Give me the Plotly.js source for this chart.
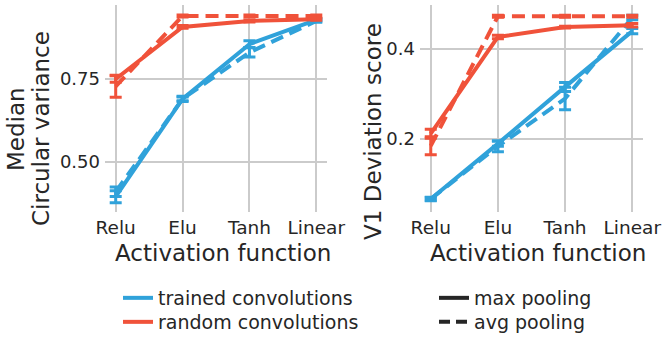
<!DOCTYPE html>
<html><head><meta charset="utf-8">
<script src="https://cdn.plot.ly/plotly-3.0.1.min.js"></script>
<style>html,body{margin:0;padding:0;background:#fff}</style>
</head><body>
<div id="chart" style="width:670px;height:344px"></div>
<script>
const categories = ["Relu", "Elu", "Tanh", "Linear"];

// Left panel: Median circular variance
const cvTrainedMax = [0.395, 0.690, 0.855, 0.928];
const cvTrainedMaxErr = [0.018, 0.008, 0.010, 0.004];
const cvTrainedAvg = [0.410, 0.690, 0.830, 0.925];
const cvTrainedAvgErr = [0.014, 0.006, 0.014, 0.004];
const cvRandomMax = [0.750, 0.907, 0.925, 0.930];
const cvRandomMaxErr = [0.010, 0.004, 0.003, 0.003];
const cvRandomAvg = [0.728, 0.940, 0.940, 0.940];
const cvRandomAvgErr = [0.033, 0.003, 0.003, 0.003];

// Right panel: V1 deviation score
const devTrainedMax = [0.067, 0.190, 0.316, 0.440];
const devTrainedMaxErr = [0.004, 0.006, 0.010, 0.006];
const devTrainedAvg = [0.067, 0.184, 0.290, 0.470];
const devTrainedAvgErr = [0.003, 0.012, 0.025, 0.005];
const devRandomMax = [0.212, 0.427, 0.449, 0.453];
const devRandomMaxErr = [0.010, 0.004, 0.002, 0.004];
const devRandomAvg = [0.185, 0.473, 0.473, 0.473];
const devRandomAvgErr = [0.020, 0.002, 0.002, 0.002];

const colorLegendLabels = ["trained convolutions", "random convolutions"];
const styleLegendLabels = ["max pooling", "avg pooling"];

const BLUE = "#30a2da", RED = "#f0523a", INK = "#262626";
const DASH = "13px,7px";

function series(xa, ya, y, err, color, dash) {
  return {
    type: "scatter", mode: "lines", x: categories, y: y,
    xaxis: xa, yaxis: ya, showlegend: false, hoverinfo: "skip",
    line: {color: color, width: 4, dash: dash},
    error_y: {type: "data", array: err, visible: true, color: color, thickness: 3, width: 6}
  };
}

const traces = [
  series("x", "y", cvTrainedMax, cvTrainedMaxErr, BLUE, "solid"),
  series("x", "y", cvTrainedAvg, cvTrainedAvgErr, BLUE, DASH),
  series("x", "y", cvRandomMax, cvRandomMaxErr, RED, "solid"),
  series("x", "y", cvRandomAvg, cvRandomAvgErr, RED, DASH),
  series("x2", "y2", devTrainedMax, devTrainedMaxErr, BLUE, "solid"),
  series("x2", "y2", devTrainedAvg, devTrainedAvgErr, BLUE, DASH),
  series("x2", "y2", devRandomMax, devRandomMaxErr, RED, "solid"),
  series("x2", "y2", devRandomAvg, devRandomAvgErr, RED, DASH),
  // legend entries
  {type: "scatter", mode: "lines", x: [null], y: [null], name: colorLegendLabels[0],
   line: {color: BLUE, width: 4}, legend: "legend"},
  {type: "scatter", mode: "lines", x: [null], y: [null], name: colorLegendLabels[1],
   line: {color: RED, width: 4}, legend: "legend2"},
  {type: "scatter", mode: "lines", x: [null], y: [null], name: styleLegendLabels[0],
   line: {color: INK, width: 4}, legend: "legend3"},
  {type: "scatter", mode: "lines", x: [null], y: [null], name: styleLegendLabels[1],
   line: {color: INK, width: 4, dash: "11px,6px"}, legend: "legend4"}
];

const font = {family: "DejaVu Sans", color: INK};
const gridAxis = {
  showgrid: true, gridcolor: "#cbcbcb", gridwidth: 2, zeroline: false,
  showline: false, ticks: "", ticklen: 0,
  tickfont: {family: "DejaVu Sans", size: 18.5, color: INK}
};

const yTop = 1 - 5/344, yBot = 1 - 212/344;

function leg(xpx, ycpx) {
  return {x: xpx/670, xanchor: "left", y: 1 - ycpx/344, yanchor: "middle",
    font: {family: "DejaVu Sans", size: 19, color: INK}, bgcolor: "rgba(0,0,0,0)",
    borderwidth: 0, tracegroupgap: 0, itemwidth: 30};
}

const layout = {
  width: 670, height: 344,
  margin: {l: 0, r: 0, t: 0, b: 0},
  paper_bgcolor: "#fff", plot_bgcolor: "#fff",
  font: font,
  xaxis: Object.assign({}, gridAxis, {domain: [105/670, 327/670], type: "category",
    categoryarray: categories, range: [-0.16, 3.16], anchor: "y", ticklabelstandoff: 2}),
  yaxis: Object.assign({}, gridAxis, {domain: [yBot, yTop], range: [0.349, 0.973],
    tickvals: [0.5, 0.75], ticktext: ["0.50", "0.75"], anchor: "x", ticklabelstandoff: 4,
    tickfont: {family: "DejaVu Sans", size: 18, color: INK}}),
  xaxis2: Object.assign({}, gridAxis, {domain: [420/670, 643/670], type: "category",
    categoryarray: categories, range: [-0.16, 3.16], anchor: "y2", ticklabelstandoff: 2}),
  yaxis2: Object.assign({}, gridAxis, {domain: [yBot, yTop], range: [0.038, 0.498],
    tickvals: [0.2, 0.4], ticktext: ["0.2", "0.4"], anchor: "x2", ticklabelstandoff: 4,
    tickfont: {family: "DejaVu Sans", size: 18, color: INK}}),
  legend: leg(118, 298),
  legend2: leg(118, 322),
  legend3: leg(434, 298),
  legend4: leg(434, 322),
  annotations: [
    {text: "Activation function", xref: "paper", yref: "paper", x: 223/670, y: 1 - 253/344,
     xanchor: "center", yanchor: "middle", showarrow: false, font: {family: "DejaVu Sans", size: 23, color: INK}},
    {text: "Activation function", xref: "paper", yref: "paper", x: 538/670, y: 1 - 253/344,
     xanchor: "center", yanchor: "middle", showarrow: false, font: {family: "DejaVu Sans", size: 23, color: INK}},
    {text: "Median", xref: "paper", yref: "paper", x: 16/670, y: 1 - 129/344, textangle: -90,
     xanchor: "center", yanchor: "middle", showarrow: false, font: {family: "DejaVu Sans", size: 23, color: INK}},
    {text: "Circular variance", xref: "paper", yref: "paper", x: 41/670, y: 1 - 129/344, textangle: -90,
     xanchor: "center", yanchor: "middle", showarrow: false, font: {family: "DejaVu Sans", size: 23, color: INK}},
    {text: "V1 Deviation score", xref: "paper", yref: "paper", x: 373/670, y: 1 - 132/344, textangle: -90,
     xanchor: "center", yanchor: "middle", showarrow: false, font: {family: "DejaVu Sans", size: 23, color: INK}}
  ]
};

Plotly.newPlot("chart", traces, layout, {displayModeBar: false, staticPlot: true});
</script>
</body></html>
